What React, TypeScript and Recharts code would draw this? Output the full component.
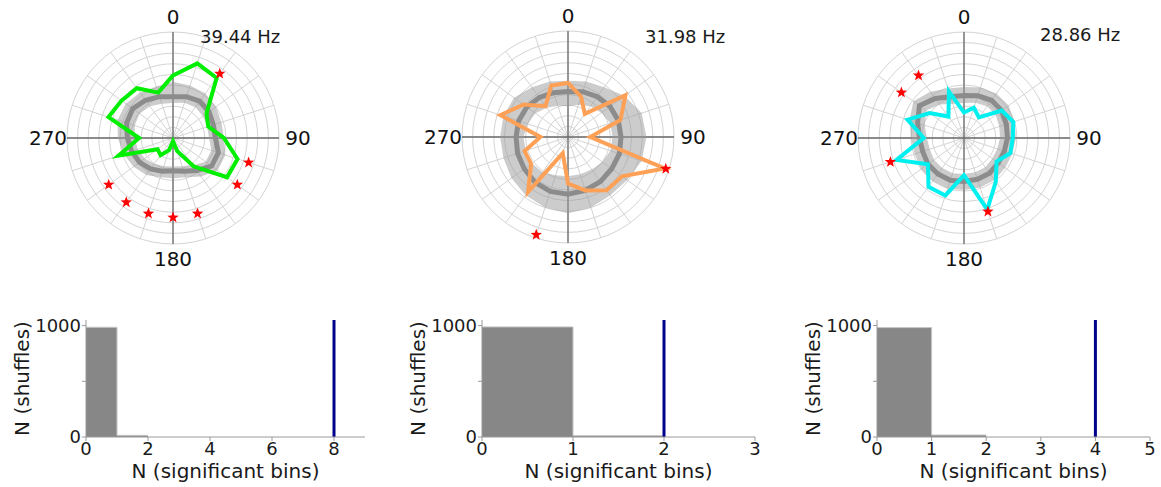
import React from "react";
import {
  RadarChart,
  PolarGrid,
  PolarAngleAxis,
  PolarRadiusAxis,
  Radar,
  ComposedChart,
  Area,
  XAxis,
  YAxis,
  ReferenceLine,
} from "recharts";

const FONT = "'DejaVu Sans', sans-serif";

// 20 phase bins of 18 degrees, 0 at the top, clockwise
const binAngles = [0, 18, 36, 54, 72, 90, 108, 126, 144, 162, 180, 198, 216, 234, 252, 270, 288, 306, 324, 342];
const labelledAngles = [0, 90, 180, 270];

// cell 1 (39.44 Hz)
const rate1 = [5.9, 7.4, 7.0, 3.9, 3.5, 4.8, 6.4, 6.3, 3.3, 1.3, 0.3, 1.2, 2.0, 1.8, 5.4, 3.2, 6.4, 6.0, 5.8, 4.5];
const shufMean1 = [3.9, 4.1, 4.3, 4.2, 4.0, 4.0, 4.5, 4.5, 3.8, 3.3, 3.1, 3.3, 3.6, 3.9, 4.1, 4.3, 4.6, 4.7, 4.4, 4.1];
const shufLow1 = [3.3, 3.5, 3.6, 3.5, 3.4, 3.4, 3.8, 3.8, 3.2, 2.8, 2.7, 2.8, 3.0, 3.3, 3.5, 3.6, 3.8, 3.9, 3.7, 3.4];
const shufHigh1 = [5.3, 5.2, 5.2, 5.0, 4.8, 4.8, 5.2, 5.2, 4.5, 3.9, 3.8, 3.9, 4.3, 4.6, 4.9, 5.2, 5.5, 5.5, 5.3, 5.1];
const sigBins1 = [36, 108, 126, 162, 180, 198, 216, 234];
const starLevel1 = 7.5;

// cell 2 (31.98 Hz)
const rate2 = [5.1, 4.0, 2.7, 6.7, 5.2, 2.1, 9.6, 6.3, 6.2, 5.3, 4.4, 1.6, 6.4, 4.3, 4.3, 2.6, 6.7, 5.2, 3.6, 5.1];
const shufMean2 = [4.3, 4.5, 4.7, 4.9, 5.0, 5.0, 5.1, 5.1, 5.2, 5.3, 5.4, 5.4, 5.3, 5.1, 5.0, 4.9, 4.9, 4.8, 4.6, 4.4];
const shufLow2 = [2.9, 3.2, 3.6, 3.9, 4.2, 4.2, 4.2, 4.0, 3.8, 3.7, 3.7, 3.8, 4.1, 4.2, 4.2, 4.2, 4.0, 3.8, 3.4, 3.1];
const shufHigh2 = [5.3, 5.5, 5.8, 6.6, 7.3, 7.4, 7.3, 6.9, 6.8, 7.0, 7.2, 7.0, 6.8, 6.6, 6.4, 6.4, 6.4, 6.3, 5.8, 5.5];
const sigBins2 = [108, 198];
const starLevel2 = 9.7;

// cell 3 (28.86 Hz)
const rate3 = [2.4, 3.0, 2.4, 4.4, 4.9, 4.6, 4.6, 3.8, 5.1, 7.1, 3.5, 5.7, 5.7, 4.2, 6.7, 3.8, 5.6, 4.0, 2.5, 4.6];
const shufMean3 = [4.0, 4.2, 4.4, 4.4, 4.2, 4.1, 4.0, 4.0, 4.1, 4.1, 4.1, 4.2, 4.2, 4.2, 4.1, 4.2, 4.6, 5.2, 4.6, 4.1];
const shufLow3 = [3.3, 3.5, 3.7, 3.7, 3.5, 3.4, 3.3, 3.3, 3.4, 3.4, 3.4, 3.5, 3.5, 3.5, 3.4, 3.5, 3.9, 4.4, 3.9, 3.4];
const shufHigh3 = [4.8, 5.0, 5.2, 5.2, 5.0, 4.9, 4.8, 4.8, 4.9, 4.9, 4.9, 5.0, 5.0, 5.0, 4.9, 5.0, 5.4, 5.9, 5.4, 4.9];
const sigBins3 = [162, 252, 306, 324];
const starLevel3 = 7.3;

// shuffle histograms
const histEdges1 = [0, 1, 2];
const histCounts1 = [985, 15];
const observed1 = 8;
const histTicks1 = [0, 2, 4, 6, 8];

const histEdges2 = [0, 1, 2];
const histCounts2 = [988, 12];
const observed2 = 2;
const histTicks2 = [0, 1, 2, 3];

const histEdges3 = [0, 1, 2];
const histCounts3 = [982, 18];
const observed3 = 4;
const histTicks3 = [0, 1, 2, 3, 4, 5];

function buildRows(rate, mean, low, high, sig, starLevel) {
  return binAngles.map((angle, i) => ({
    angle,
    rate: rate[i],
    mean: mean[i],
    band: [low[i], high[i]],
    star: sig.includes(angle) ? starLevel : null,
  }));
}

function buildHist(edges, counts) {
  return edges.map((x, i) => ({ x, n: counts[Math.min(i, counts.length - 1)] }));
}

const RAD = Math.PI / 180;

// ring between the low and high shuffle values
function BandShape(props: any) {
  const { points, baseLinePoints, fill, fillOpacity } = props;
  if (!points || !points.length) return null;
  const inner =
    baseLinePoints && baseLinePoints.length === points.length
      ? baseLinePoints
      : points.map((p) => {
          const v = p.value;
          const r = Array.isArray(v) && v[1] ? (p.radius * v[0]) / v[1] : 0;
          return { x: p.cx + Math.cos(-RAD * p.angle) * r, y: p.cy + Math.sin(-RAD * p.angle) * r };
        });
  const path = (pts) => "M" + pts.map((p) => `${p.x},${p.y}`).join("L") + "Z";
  return <path d={path(points) + path(inner)} fill={fill} fillOpacity={fillOpacity} fillRule="evenodd" stroke="none" />;
}

function StarDot(props: any) {
  const { cx, cy, payload } = props;
  const row = payload && payload.payload ? payload.payload : payload;
  if (!row || row.star == null) return null;
  if (!Number.isFinite(cx) || !Number.isFinite(cy)) return null;
  const pts = [];
  for (let k = 0; k < 10; k++) {
    const r = k % 2 === 0 ? 6 : 2.5;
    const a = -90 + k * 36;
    pts.push(`${cx + r * Math.cos(a * RAD)},${cy + r * Math.sin(a * RAD)}`);
  }
  return <polygon points={pts.join(" ")} fill="#ff0000" stroke="none" />;
}

function AngleTick(props: any) {
  const { x, y, payload } = props;
  if (!labelledAngles.includes(payload.value)) return null;
  const dx = payload.value === 90 ? 4 : payload.value === 270 ? -4 : 0;
  return (
    <text x={x + dx} y={y} textAnchor="middle" dominantBaseline="central" fontSize={20} fill="#111">
      {payload.value}
    </text>
  );
}

function PolarCell({ rows, color, left, cy, freq, freqLeft, freqTop }) {
  return (
    <>
      <div style={{ position: "absolute", left, top: 0 }}>
        <RadarChart width={300} height={280} data={rows} cx={150} cy={cy} outerRadius={106} margin={{ top: 0, right: 0, bottom: 0, left: 0 }}>
          <PolarGrid gridType="circle" stroke="#d4d4d4" strokeWidth={1} />
          <PolarGrid gridType="circle" polarAngles={[0, 90, 180, 270]} polarRadius={[]} stroke="#6a6a6a" strokeWidth={1.3} />
          <PolarAngleAxis dataKey="angle" tick={<AngleTick />} tickLine={false} axisLine={false} tickSize={15} />
          <PolarRadiusAxis domain={[0, 10]} tickCount={11} tick={false} axisLine={false} />
          <Radar dataKey="band" fill="#9a9a9a" fillOpacity={0.5} stroke="none" shape={<BandShape />} dot={false} isAnimationActive={false} />
          <Radar dataKey="mean" stroke="#8c8c8c" strokeWidth={5} fill="none" dot={false} isAnimationActive={false} />
          <Radar dataKey="rate" stroke={color} strokeWidth={4} fill="none" dot={false} isAnimationActive={false} />
          <Radar dataKey="star" stroke="none" fill="none" dot={<StarDot />} isAnimationActive={false} />
        </RadarChart>
      </div>
      <div style={{ position: "absolute", left: freqLeft, top: freqTop, fontSize: 18, lineHeight: "18px", color: "#1a1a1a", whiteSpace: "nowrap" }}>
        {freq}
      </div>
    </>
  );
}

function HistCell({ rows, observed, xMax, ticks, left, width, marginLeft, marginRight }) {
  return (
    <div style={{ position: "absolute", left, top: 300 }}>
      <ComposedChart width={width} height={187} data={rows} margin={{ top: 20, right: marginRight, bottom: 0, left: marginLeft }}>
        <XAxis
          type="number"
          dataKey="x"
          domain={[0, xMax]}
          ticks={ticks}
          allowDataOverflow
          height={50}
          tickSize={4}
          tickMargin={1}
          stroke="#9a9a9a"
          tick={{ fill: "#1a1a1a", fontSize: 18 }}
          label={{ value: "N (significant bins)", position: "insideBottom", offset: 9, fontSize: 20, fill: "#1a1a1a" }}
        />
        <YAxis
          type="number"
          domain={[0, 1050]}
          ticks={[0, 500, 1000]}
          width={70}
          tickSize={4}
          tickMargin={1}
          stroke="#9a9a9a"
          tick={{ fill: "#1a1a1a", fontSize: 18 }}
          tickFormatter={(v) => (v === 500 ? "" : String(v))}
          label={{ value: "N (shuffles)", angle: -90, position: "insideLeft", offset: 6, fontSize: 20, fill: "#1a1a1a", style: { textAnchor: "middle" } }}
        />
        <Area type="stepAfter" dataKey="n" fill="#878787" fillOpacity={1} stroke="#c6c6c6" strokeWidth={1} dot={false} activeDot={false} isAnimationActive={false} />
        <ReferenceLine x={observed} stroke="#00008b" strokeWidth={3} />
      </ComposedChart>
    </div>
  );
}

export default function App() {
  return (
    <div style={{ position: "absolute", left: 0, top: 0, width: 1161, height: 487, background: "#fff", overflow: "hidden", fontFamily: FONT }}>
      <PolarCell rows={buildRows(rate1, shufMean1, shufLow1, shufHigh1, sigBins1, starLevel1)} color="#00ee00" left={23} cy={138} freq="39.44 Hz" freqLeft={200} freqTop={28} />
      <PolarCell rows={buildRows(rate2, shufMean2, shufLow2, shufHigh2, sigBins2, starLevel2)} color="#ffa057" left={418} cy={137} freq="31.98 Hz" freqLeft={645} freqTop={28} />
      <PolarCell rows={buildRows(rate3, shufMean3, shufLow3, shufHigh3, sigBins3, starLevel3)} color="#00f0f0" left={814} cy={138} freq="28.86 Hz" freqLeft={1040} freqTop={26} />

      <HistCell rows={buildHist(histEdges1, histCounts1)} observed={observed1} xMax={9} ticks={histTicks1} left={0} width={380} marginLeft={16} marginRight={15} />
      <HistCell rows={buildHist(histEdges2, histCounts2)} observed={observed2} xMax={3} ticks={histTicks2} left={392} width={380} marginLeft={20} marginRight={17} />
      <HistCell rows={buildHist(histEdges3, histCounts3)} observed={observed3} xMax={5} ticks={histTicks3} left={790} width={371} marginLeft={17} marginRight={11} />
    </div>
  );
}
